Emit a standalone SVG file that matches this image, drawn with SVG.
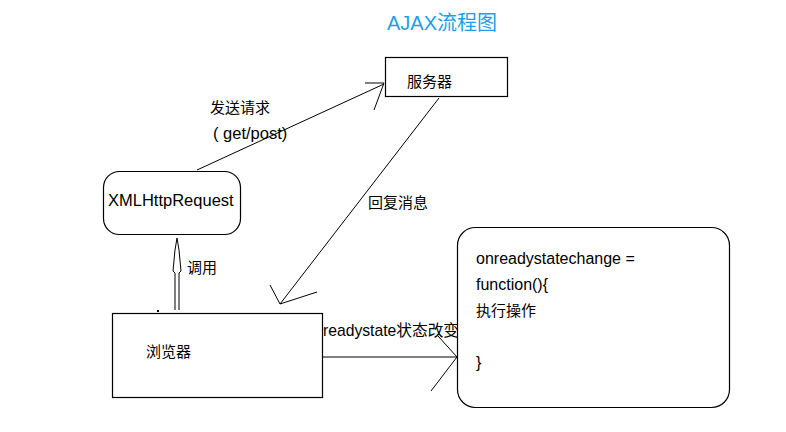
<svg xmlns="http://www.w3.org/2000/svg" width="786" height="432" viewBox="0 0 786 432">
<style>
.box{fill:#fff;stroke:#000;stroke-width:1.2}
.ln{fill:none;stroke:#000;stroke-width:1}
.t{font-family:"Liberation Sans","Noto Sans CJK SC",sans-serif;font-size:15px;fill:#000}
.title{font-family:"Liberation Sans","Noto Sans CJK SC",sans-serif;font-size:20px;fill:#1c9fe6}
</style>
<rect width="786" height="432" fill="#fff"/>
<text class="title" x="387" y="30">AJAX流程图</text>
<g id="connectors">
  <g id="send">
    <path class="ln" d="M197,170 L384,84"/>
    <path class="ln" d="M365,83 L384,83 L374,110"/>
    <text class="t" x="210" y="113">发送请求</text>
    <text class="t" x="213" y="139" style="font-size:16.5px">( get/post)</text>
  </g>
  <g id="reply">
    <path class="ln" d="M439,98 L280,304"/>
    <path class="ln" d="M270,285 L280,304 L317,292"/>
    <text class="t" x="368" y="208">回复消息</text>
  </g>
  <g id="call">
    <path class="ln" d="M175,310 L175,273 L173,271 L175,250 L177,238 L179,250 L181,271 L179,273 L179,310"/>
    <text class="t" x="187" y="273">调用</text>
  </g>
  <g id="change">
    <path class="ln" d="M322,357 L457,357"/>
    <path class="ln" d="M438,336 L457,357 L431,391"/>
    <text class="t" x="323" y="336" style="font-size:15.7px">readystate状态改变</text>
  </g>
</g>
<g id="server">
  <rect class="box" x="385.5" y="57.5" width="122" height="39"/>
  <text class="t" x="407" y="87">服务器</text>
</g>
<g id="xhr">
  <rect class="box" x="103.5" y="171.5" width="137" height="63" rx="16" ry="16"/>
  <text class="t" x="108" y="206" style="font-size:16.5px">XMLHttpRequest</text>
</g>
<g id="browser">
  <rect class="box" x="112.5" y="313.5" width="210" height="84"/>
  <rect x="157" y="310" width="2" height="2" fill="#000"/>
  <text class="t" x="146" y="357">浏览器</text>
</g>
<g id="callback">
  <rect class="box" x="457.5" y="227.5" width="272" height="180" rx="18" ry="18"/>
  <text class="t" x="476" y="264" style="font-size:16px">onreadystatechange =</text>
  <text class="t" x="476" y="290" style="font-size:16px">function(){</text>
  <text class="t" x="476" y="316">执行操作</text>
  <text class="t" x="476" y="368" style="font-size:16px">}</text>
</g>
</svg>
